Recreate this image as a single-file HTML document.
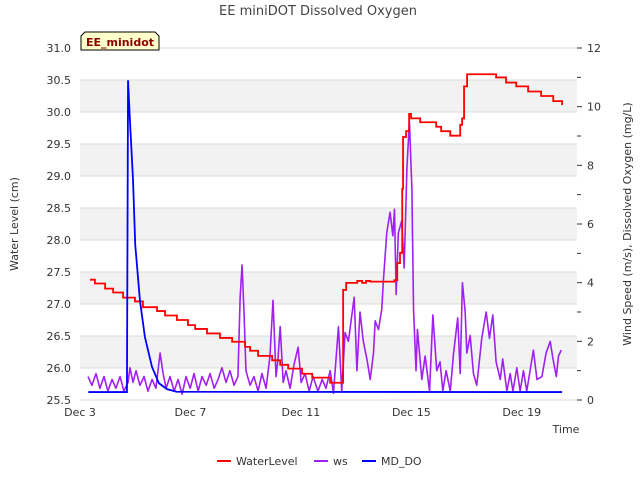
<!DOCTYPE html>
<html><head><meta charset="utf-8"><style>
body{margin:0;background:#fff;font-family:"Liberation Sans",sans-serif}
svg text{font-family:"DejaVu Sans","Liberation Sans",sans-serif}
</style></head><body>
<svg id="c" width="640" height="480" xmlns="http://www.w3.org/2000/svg">
<text x="318" y="15" text-anchor="middle" font-size="13" fill="#444">EE miniDOT Dissolved Oxygen</text>
<g id="bands"></g><g id="grid"></g><g id="axes"></g><g id="series"></g>
<text transform="translate(18,224) rotate(-90)" text-anchor="middle" font-size="11" fill="#333">Water Level (cm)</text>
<text transform="translate(631,224) rotate(-90)" text-anchor="middle" font-size="11" fill="#333">Wind Speed (m/s), Dissolved Oxygen (mg/L)</text>
<text x="566" y="433" text-anchor="middle" font-size="11" fill="#333">Time</text>
<g><path d="M81,36 l4,-4 h70 l4,4 v14 h-78z" fill="#ffffcc" stroke="#000" stroke-width="1"/>
<text x="120" y="46" text-anchor="middle" font-size="11" font-weight="bold" fill="#8b0000">EE_minidot</text></g>
<g>
<g><line x1="217" y1="461" x2="231" y2="461" stroke="#f00" stroke-width="2"/><text x="236" y="465" font-size="11" fill="#333">WaterLevel</text></g>
<g><line x1="314" y1="461" x2="328" y2="461" stroke="#a020f0" stroke-width="2"/><text x="333" y="465" font-size="11" fill="#333">ws</text></g>
<g><line x1="362" y1="461" x2="376" y2="461" stroke="#00f" stroke-width="2"/><text x="381" y="465" font-size="11" fill="#333">MD_DO</text></g>
</g>
</svg>
<script>
const xTicks=[3,7,11,15,19];
const xTickLabels=["Dec 3","Dec 7","Dec 11","Dec 15","Dec 19"];
const leftTicks=[25.5,26,26.5,27,27.5,28,28.5,29,29.5,30,30.5,31];
const rightTicks=[0,2,4,6,8,10,12];
const wlTime=[3.36,3.54,3.91,4.20,4.56,4.99,5.28,5.79,6.08,6.51,6.91,7.17,7.60,8.07,8.51,8.98,9.16,9.45,9.96,10.25,10.54,11.04,11.41,12.06,12.42,12.53,12.64,13.04,13.22,13.36,13.51,13.87,14.38,14.49,14.59,14.67,14.70,14.81,14.92,14.99,15.32,15.90,16.08,16.41,16.77,16.84,16.91,17.02,17.71,18.07,18.43,18.80,19.23,19.70,20.14,20.46];
const wlVal=[27.38,27.32,27.24,27.18,27.10,27.04,26.95,26.89,26.82,26.75,26.67,26.61,26.54,26.47,26.41,26.33,26.27,26.19,26.12,26.05,25.99,25.91,25.85,25.77,25.77,27.22,27.33,27.36,27.33,27.36,27.35,27.35,27.37,27.64,27.80,28.8,29.61,29.70,29.97,29.90,29.84,29.77,29.70,29.63,29.80,29.9,30.40,30.59,30.59,30.54,30.46,30.40,30.32,30.25,30.17,30.11];
const doTime=[3.30,4.70,4.74,4.81,4.92,5.00,5.17,5.35,5.61,5.86,6.15,6.5,20.46];
const doVal=[0.27,0.27,10.9,9.5,7.5,5.3,3.4,2.15,1.12,0.57,0.37,0.28,0.27];
const wsTime=[3.29,3.43,3.58,3.72,3.87,4.01,4.16,4.30,4.45,4.59,4.74,4.81,4.92,5.03,5.17,5.32,5.46,5.61,5.75,5.90,6.01,6.12,6.26,6.41,6.55,6.70,6.84,6.99,7.13,7.28,7.42,7.57,7.71,7.86,8.00,8.14,8.29,8.43,8.58,8.72,8.80,8.87,8.94,9.01,9.16,9.30,9.45,9.59,9.74,9.88,9.99,10.10,10.17,10.25,10.36,10.46,10.61,10.75,10.90,11.01,11.15,11.30,11.44,11.62,11.77,11.91,12.06,12.18,12.36,12.48,12.60,12.72,12.93,13.03,13.14,13.26,13.39,13.51,13.63,13.69,13.81,13.93,13.99,14.11,14.23,14.33,14.39,14.45,14.53,14.65,14.74,14.84,14.93,15.02,15.08,15.17,15.22,15.38,15.50,15.66,15.78,15.92,16.04,16.14,16.26,16.41,16.53,16.68,16.77,16.85,16.95,17.01,17.13,17.25,17.37,17.55,17.71,17.83,17.95,18.07,18.22,18.31,18.46,18.58,18.68,18.82,18.94,19.06,19.18,19.30,19.42,19.55,19.73,19.88,20.03,20.13,20.25,20.33,20.43];
const wsVal=[0.8,0.5,0.9,0.4,0.8,0.3,0.7,0.4,0.8,0.3,0.6,1.1,0.6,1.0,0.5,0.8,0.3,0.7,0.4,1.6,0.9,0.4,0.8,0.3,0.7,0.2,0.8,0.4,0.9,0.3,0.8,0.5,0.9,0.4,0.7,1.1,0.6,1.0,0.5,0.8,3.5,4.6,3.0,1.0,0.5,0.8,0.3,0.9,0.4,1.5,3.4,0.8,1.4,2.5,0.6,1.0,0.4,1.2,1.8,0.6,0.9,0.3,0.8,0.3,0.7,0.4,1.0,0.23,2.5,0.3,2.3,2.0,3.5,1.0,3.0,2.0,1.4,0.7,1.6,2.7,2.4,3.1,4.1,5.7,6.4,5.6,6.5,3.6,5.7,6.1,4.5,7.9,9.5,7.2,3.1,1.0,2.4,0.7,1.5,0.3,2.9,1.0,1.3,0.3,1.0,0.3,1.6,2.8,0.9,4.0,3.0,1.6,2.2,0.9,0.5,2.1,3.0,2.1,2.9,1.3,0.7,1.4,0.3,0.9,0.3,1.1,0.3,1.0,0.3,1.0,1.7,0.7,0.8,1.6,2.0,1.4,0.8,1.5,1.7];
const L=80,R=577,T=48,B=400;
const X=d=>L+(d-3)/(21-3)*(R-L);
const YL=v=>B-(v-25.5)/(31-25.5)*(B-T);
const YR=v=>B-v/12*(B-T);
const NS="http://www.w3.org/2000/svg";
function mk(tag,attrs,parent){const e=document.createElementNS(NS,tag);for(const k in attrs)e.setAttribute(k,attrs[k]);document.getElementById(parent).appendChild(e);return e;}
for(let v=26;v<31;v+=1){
 const r=mk('rect',{x:L,y:YL(v+0.5),width:R-L,height:YL(v)-YL(v+0.5),fill:'#f2f2f2'},'bands');
 
 
}
leftTicks.forEach(v=>{
 const l=mk('line',{x1:L,x2:R,y1:YL(v),y2:YL(v),stroke:'#dcdcdc','stroke-width':1},'grid');
 
 
 const t=mk('text',{x:L-9,y:YL(v)+4,'text-anchor':'end','font-size':11,fill:'#333'},'axes');t.textContent=v.toFixed(1);
 
 
});
for(let v=1;v<12;v+=2){const m=mk('line',{x1:R,x2:R+4,y1:YR(v),y2:YR(v),stroke:'#333'},'axes');
 
 }
rightTicks.forEach(v=>{
 const m=mk('line',{x1:R,x2:R+5,y1:YR(v),y2:YR(v),stroke:'#333'},'axes');
 
 
 const t=mk('text',{x:R+10,y:YR(v)+4,'font-size':11,fill:'#333'},'axes');t.textContent=v;
 
 
});
xTicks.forEach((d,i)=>{
 const t=mk('text',{x:X(d),y:B+16,'text-anchor':'middle','font-size':11,fill:'#333'},'axes');t.textContent=xTickLabels[i];
 
 
});
function path(ts,vs,Y,step){let d='';ts.forEach((t,i)=>{const x=X(t),y=Y(vs[i]);if(i===0)d='M'+x+','+y;else{if(step)d+=' L'+x+','+Y(vs[i-1]);d+=' L'+x+','+y;}});return d;}
const ws=mk('path',{d:path(wsTime,wsVal,YR,false),fill:'none',stroke:'#a020f0','stroke-width':1.6,'stroke-linejoin':'round'},'series');


const wl=mk('path',{d:path(wlTime,wlVal,YL,true),fill:'none',stroke:'#ff0000','stroke-width':1.8},'series');


const dol=mk('path',{d:path(doTime,doVal,YR,false),fill:'none',stroke:'#0000ff','stroke-width':1.8},'series');


</script>
</body></html>
